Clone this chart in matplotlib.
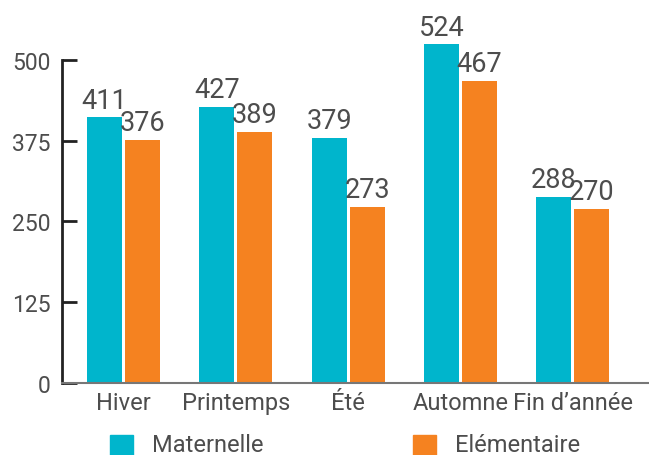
import numpy as np
import matplotlib.pyplot as plt
from matplotlib.patches import Rectangle

categories = ['Hiver', 'Printemps', 'Été', 'Automne', 'Fin d’année']
maternelle = [411, 427, 379, 524, 288]
elementaire = [376, 389, 273, 467, 270]
yticks = [0, 125, 250, 375, 500]

cyan = '#00B5CC'
orange = '#F58220'
txt = '#4d4d4d'

plt.rcParams['font.family'] = ['Roboto', 'DejaVu Sans']

fig = plt.figure(figsize=(6.49, 4.56), dpi=100)
ax = fig.add_axes([62/649, 1-384/456, 1-62/649, 384/456])

x = np.arange(len(categories))
w = 0.312
off = 0.169
b1 = ax.bar(x - off, maternelle, w, color=cyan)
b2 = ax.bar(x + off, elementaire, w, color=orange)

for bars, vals in ((b1, maternelle), (b2, elementaire)):
    for r, v in zip(bars, vals):
        ax.text(r.get_x() + r.get_width()/2, v + 6, str(v), ha='center', va='bottom',
                fontsize=19.5, color=txt, clip_on=False)

ax.set_xlim(-0.548, 4.68)
ax.set_ylim(0, 594.4)
ax.set_yticks(yticks)
ax.set_xticks(x)
ax.set_xticklabels(categories, fontsize=17, color=txt)
ax.tick_params(axis='x', length=0, pad=6)
ax.tick_params(axis='y', direction='in', length=11, width=2, color='#222222',
               labelsize=16.5, labelcolor=txt, pad=8)
for s in ('top', 'right'):
    ax.spines[s].set_visible(False)
ax.spines['left'].set_color('#222222')
ax.spines['left'].set_linewidth(2)
ax.spines['left'].set_bounds(0, 500)
ax.spines['bottom'].set_color('#777777')
ax.spines['bottom'].set_linewidth(1.5)

# legend
sq = 23
for xs, col, lab in ((110, cyan, 'Maternelle'), (413, orange, 'Elémentaire')):
    fig.patches.append(Rectangle((xs/649, (456-459)/456), sq/649, sq/456,
                                 transform=fig.transFigure, color=col))
    fig.text((xs + 42)/649, 1-446/456, lab, fontsize=17, color=txt, va='center')

fig.savefig('out.png', dpi=100)
